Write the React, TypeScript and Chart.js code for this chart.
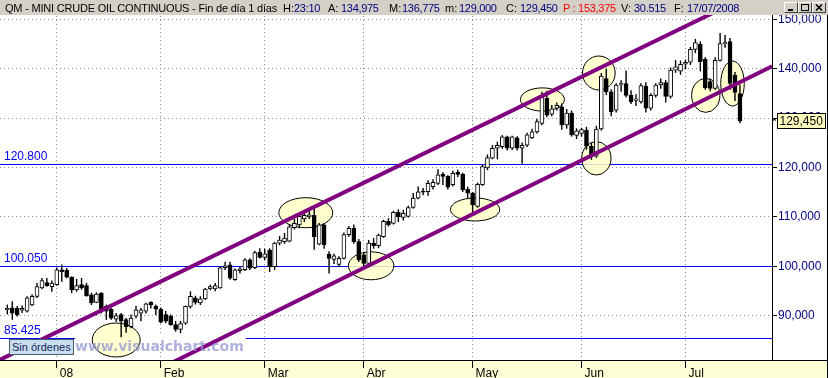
import React, { useEffect, useRef } from 'react';
import { Chart, registerables } from 'chart.js';

Chart.register(...registerables);

// ---- Daily candles (Dec 17 2007 .. Jul 17 2008), price in $ ----
const OPEN = [
  91.2, 91.6, 91.5, 91.1, 90.9, 92.2, 93.9, 95.6, 96.7, 95.9,
  96.3, 99.3, 99.2, 97.8, 95.2, 96.3, 96.1, 94.2, 92.7, 94.6,
  91.9, 91.3, 89.3, 90.2, 89.2, 87.8, 89.9, 90.5, 90.9, 92.7,
  91.9, 91.3, 90.2, 89.9, 88.2, 87.2, 88.5, 91.9, 93.6, 92.6,
  93.4, 95.4, 95.4, 95.6, 99.7, 100.3, 97.3, 99.1, 99.3, 101.3,
  99.7, 102.9, 101.8, 103.3, 99.9, 104.7, 105.0, 105.1, 107.8, 108.4,
  109.6, 110.0, 110.3, 104.5, 108.4, 102.4, 101.4, 100.4, 101.6, 106.4,
  107.7, 105.0, 102.3, 100.6, 104.7, 104.2, 106.0, 109.1, 108.7, 111.0,
  109.9, 110.1, 111.9, 113.8, 115.1, 115.1, 116.1, 116.8, 118.6, 118.2,
  116.5, 119.0, 118.6, 115.6, 114.8, 112.1, 116.5, 119.9, 121.9, 123.9,
  124.2, 126.2, 123.9, 126.0, 123.9, 124.5, 126.0, 127.2, 128.9, 134.0,
  130.8, 132.0, 132.3, 128.6, 131.0, 126.5, 126.9, 127.6, 124.3, 122.3,
  127.8, 138.0, 135.3, 131.6, 136.7, 137.0, 134.6, 133.6, 133.3, 136.5,
  132.0, 134.6, 136.7, 137.2, 134.4, 139.7, 139.5, 140.9, 141.3, 143.9,
  145.0, 141.9, 137.4, 136.0, 141.7, 145.0, 145.5, 138.7, 134.975,
];
const HIGH = [
  92.2, 92.9, 91.9, 92.0, 93.9, 94.3, 96.6, 97.6, 97.6, 97.1,
  99.7, 100.3, 99.6, 97.9, 97.4, 97.6, 96.6, 94.6, 94.7, 94.7,
  92.2, 91.5, 90.5, 90.5, 89.5, 90.2, 91.9, 91.5, 92.6, 92.9,
  92.2, 91.6, 90.9, 90.2, 88.9, 88.9, 92.0, 94.9, 94.0, 93.9,
  95.6, 96.2, 96.6, 99.9, 100.9, 100.9, 99.5, 99.9, 101.6, 101.6,
  103.1, 103.6, 103.5, 103.6, 104.9, 106.1, 106.7, 108.5, 109.6, 110.6,
  111.0, 111.4, 111.8, 108.7, 108.6, 103.0, 102.5, 102.0, 106.8, 108.1,
  108.4, 105.5, 102.9, 105.3, 105.7, 106.6, 109.4, 109.7, 111.2, 111.5,
  111.4, 112.2, 114.8, 116.1, 115.8, 117.4, 117.6, 119.6, 119.0, 118.4,
  119.3, 119.5, 118.9, 116.1, 115.0, 116.9, 120.5, 122.6, 124.5, 125.2,
  126.5, 126.4, 126.4, 126.3, 125.0, 127.0, 127.8, 129.8, 135.3, 135.5,
  132.6, 133.1, 132.9, 131.8, 131.5, 127.9, 128.0, 128.2, 125.0, 128.4,
  139.1, 140.0, 135.8, 137.0, 137.6, 139.6, 135.6, 134.8, 137.0, 137.2,
  135.0, 137.0, 138.0, 137.7, 140.2, 141.7, 141.6, 141.8, 144.4, 146.0,
  145.5, 142.3, 138.0, 142.3, 147.2, 146.8, 146.2, 139.3, 136.775,
];
const LOW = [
  90.3, 89.2, 89.9, 90.6, 90.7, 92.0, 93.6, 95.4, 95.9, 94.9,
  96.1, 96.9, 97.6, 94.6, 94.9, 95.3, 93.9, 92.2, 92.6, 90.5,
  89.2, 89.2, 88.8, 85.7, 86.6, 87.5, 89.5, 88.9, 90.5, 91.5,
  90.2, 88.5, 88.5, 88.0, 86.8, 86.5, 88.2, 91.5, 92.3, 92.2,
  93.2, 95.2, 95.0, 95.5, 99.3, 97.3, 97.1, 98.6, 99.1, 99.3,
  99.5, 101.6, 101.3, 98.9, 99.3, 104.3, 104.6, 104.9, 107.5, 107.7,
  109.0, 109.6, 103.4, 104.3, 103.6, 98.6, 100.5, 99.9, 101.4, 106.0,
  104.6, 100.9, 99.9, 100.3, 103.6, 103.7, 105.8, 108.1, 108.5, 109.0,
  109.3, 109.9, 111.7, 113.6, 114.4, 114.3, 115.6, 116.5, 116.5, 115.6,
  116.2, 118.1, 115.1, 113.9, 110.4, 111.9, 116.3, 119.5, 121.7, 121.7,
  123.8, 123.5, 123.6, 123.5, 120.8, 124.2, 125.8, 126.9, 128.6, 130.2,
  130.4, 131.6, 127.7, 127.9, 126.3, 125.8, 126.3, 123.6, 121.6, 122.0,
  127.5, 134.7, 130.4, 131.2, 135.4, 134.2, 132.9, 132.5, 133.0, 131.2,
  131.6, 134.2, 136.0, 133.2, 134.0, 139.2, 138.8, 139.9, 140.8, 143.2,
  139.5, 135.8, 135.5, 135.8, 141.5, 144.3, 135.8, 133.5, 129.0,
];
const CLOSE = [
  91.5, 90.5, 90.2, 91.5, 93.6, 93.9, 95.9, 97.1, 96.1, 96.6,
  99.3, 98.9, 97.8, 95.2, 96.1, 95.6, 94.0, 92.6, 94.4, 90.9,
  90.9, 89.5, 90.0, 88.9, 87.8, 89.5, 91.2, 91.2, 92.4, 92.2,
  91.3, 88.7, 88.9, 88.2, 87.2, 88.4, 91.9, 93.9, 92.7, 93.4,
  95.4, 95.9, 96.1, 99.7, 100.1, 97.6, 99.3, 99.5, 101.3, 99.6,
  102.8, 101.8, 102.5, 99.9, 104.7, 105.3, 105.7, 108.0, 108.7, 110.1,
  110.3, 110.4, 106.0, 108.4, 104.4, 101.6, 102.1, 101.6, 106.4, 107.7,
  105.0, 101.3, 100.6, 104.7, 104.2, 106.3, 109.1, 108.4, 110.9, 110.0,
  110.7, 111.9, 113.8, 115.1, 115.0, 116.8, 117.0, 118.5, 118.2, 116.0,
  118.8, 118.6, 115.5, 114.8, 112.4, 116.6, 120.2, 122.0, 123.9, 124.5,
  126.2, 123.9, 126.2, 123.9, 124.5, 126.6, 127.2, 129.3, 134.3, 130.6,
  131.9, 132.6, 128.6, 131.0, 126.6, 127.4, 127.7, 124.3, 122.3, 127.8,
  138.5, 135.3, 131.3, 136.7, 137.0, 134.6, 133.3, 133.9, 136.6, 132.0,
  134.6, 136.7, 137.2, 134.4, 139.7, 140.4, 140.9, 141.3, 143.9, 145.3,
  141.4, 136.1, 136.0, 141.7, 145.1, 145.3, 137.0, 135.2, 129.45,
];

// ---- Axis ticks ----
const MONTH_START = [10, 31, 52, 72, 94, 116, 137];
const MONTH_LABELS = ['08', 'Feb', 'Mar', 'Abr', 'May', 'Jun', 'Jul'];
const Y_TICKS = [90, 100, 110, 120, 130, 140, 150];
const X_MIN = -1.475;
const X_MAX = 154.48;
const Y_MIN = 81.03;
const Y_MAX = 153.91;

// ---- Horizontal levels ----
const LEVELS = [120.8, 100.05, 85.425];
const LEVEL_LABELS = ['120.800', '100.050', '85.425'];

// ---- Channel lines (bar index, price) ----
const UPPER_X = [-1.5, 152];
const UPPER_Y = [81.07, 155.9];
const LOWER_X = [30, 154.5];
const LOWER_Y = [78.87, 140.49];

// ---- Highlight ellipses: centre (bar index, price), radii (bars, price) ----
const ELLIPSE_X = [22.0, 60.3, 73.5, 94.5, 108.1, 119.5, 119.0, 141.1, 146.5];
const ELLIPSE_Y = [85.08, 110.85, 100.1, 111.5, 133.77, 139.13, 121.86, 134.6, 137.0];
const ELLIPSE_RX = [4.85, 5.45, 4.6, 4.98, 4.44, 3.3, 2.96, 2.86, 2.38];
const ELLIPSE_RY = [3.44, 3.04, 2.83, 2.33, 2.35, 3.44, 3.38, 3.44, 4.55];

const WATERMARK = 'www.visualchart.com';
const BAR_INDEX = OPEN.map((_, i) => i);

const FONT = '"Liberation Sans", Arial, sans-serif';
const WM_FONT = 'bold 14px "DejaVu Sans", Verdana, sans-serif';
const fmtAxis = (v: number) => v.toFixed(3).replace('.', ',');

const TITLE_SEGMENTS = [
  { x: 5, text: 'QM - MINI CRUDE OIL CONTINUOUS - Fin de día 1 días', color: '#000', ls: -0.2 },
  { x: 283, text: 'H:', color: '#000', ls: 0 },
  { x: 294, text: '23:10', color: '#000080', ls: -0.3 },
  { x: 328, text: 'A:', color: '#000', ls: 0 },
  { x: 341, text: '134,975', color: '#000080', ls: -0.3 },
  { x: 389, text: 'M:', color: '#000', ls: 0 },
  { x: 402, text: '136,775', color: '#000080', ls: -0.3 },
  { x: 445, text: 'm:', color: '#000', ls: 0 },
  { x: 459, text: '129,000', color: '#000080', ls: -0.3 },
  { x: 506, text: 'C:', color: '#000', ls: 0 },
  { x: 520, text: '129,450', color: '#000080', ls: -0.3 },
  { x: 563, text: 'P : 153,375', color: '#FF0000', ls: -0.3 },
  { x: 621, text: 'V:', color: '#000', ls: 0 },
  { x: 634, text: '30.515', color: '#000080', ls: -0.3 },
  { x: 674, text: 'F:', color: '#000', ls: 0 },
  { x: 687, text: '17/07/2008', color: '#000080', ls: -0.3 },
];

const decorPlugin = {
  id: 'decor',
  beforeDraw(chart: any) {
    const { ctx, chartArea: a, width, height } = chart;
    ctx.save();
    ctx.fillStyle = '#FFFFD7';
    ctx.fillRect(0, a.bottom, width, height - a.bottom);
    ctx.restore();
  },
  beforeDatasetsDraw(chart: any) {
    const { ctx, chartArea: a } = chart;
    const xs = chart.scales.x;
    const ys = chart.scales.y;
    ctx.save();
    ctx.beginPath();
    ctx.rect(a.left, a.top, a.right - a.left, a.bottom - a.top);
    ctx.clip();
    ctx.strokeStyle = '#0000FF';
    ctx.lineWidth = 1;
    LEVELS.forEach((v) => {
      const py = Math.round(ys.getPixelForValue(v)) + 0.5;
      ctx.beginPath();
      ctx.moveTo(a.left, py);
      ctx.lineTo(a.right, py);
      ctx.stroke();
    });
    // white backing of the watermark
    ctx.font = WM_FONT;
    const ww = ctx.measureText(WATERMARK).width;
    ctx.fillStyle = '#fff';
    ctx.fillRect(75, 335, ww + 2, 8);
    ELLIPSE_X.forEach((ex, k) => {
      const cx = xs.getPixelForValue(ex);
      const cy = ys.getPixelForValue(ELLIPSE_Y[k]);
      const rx = Math.abs(xs.getPixelForValue(ex + ELLIPSE_RX[k]) - cx);
      const ry = Math.abs(ys.getPixelForValue(ELLIPSE_Y[k] + ELLIPSE_RY[k]) - cy);
      ctx.beginPath();
      ctx.ellipse(cx, cy, rx, ry, 0, 0, Math.PI * 2);
      ctx.fillStyle = 'rgba(255,255,200,0.85)';
      ctx.fill();
      ctx.strokeStyle = '#000';
      ctx.lineWidth = 1;
      ctx.stroke();
    });
    ctx.restore();
  },
  afterDatasetsDraw(chart: any) {
    const { ctx } = chart;
    const ys = chart.scales.y;
    ctx.save();
    ctx.textAlign = 'left';
    ctx.textBaseline = 'alphabetic';
    ctx.font = '12px ' + FONT;
    ctx.fillStyle = '#0000FF';
    LEVELS.forEach((v, k) => {
      ctx.fillText(LEVEL_LABELS[k], 4, Math.round(ys.getPixelForValue(v)) - 4);
    });
    ctx.font = WM_FONT;
    ctx.fillStyle = 'rgba(150,150,208,0.75)';
    ctx.fillText(WATERMARK, 75, 351);
    ctx.restore();
  },
  afterDraw(chart: any) {
    const { ctx, chartArea: a, width, height } = chart;
    const ys = chart.scales.y;
    ctx.save();
    ctx.strokeStyle = '#000';
    ctx.lineWidth = 1;
    ctx.beginPath();
    ctx.moveTo(0, a.bottom + 0.5);
    ctx.lineTo(width, a.bottom + 0.5);
    ctx.moveTo(width - 0.5, 0);
    ctx.lineTo(width - 0.5, height);
    ctx.stroke();
    // last price tag
    const lastClose = CLOSE[CLOSE.length - 1];
    const py = Math.round(ys.getPixelForValue(lastClose));
    const bx = a.right + 5.5;
    ctx.fillStyle = '#FFFFC0';
    ctx.fillRect(bx, py - 7.5, 48, 15);
    ctx.strokeRect(bx, py - 7.5, 48, 15);
    ctx.fillStyle = '#000';
    ctx.font = '12px ' + FONT;
    ctx.textBaseline = 'middle';
    ctx.textAlign = 'left';
    ctx.fillText(fmtAxis(lastClose), bx + 2, py + 0.5);
    // small marker
    ctx.beginPath();
    ctx.moveTo(a.right + 1, py - 2.5);
    ctx.lineTo(a.right + 4, py - 0.5);
    ctx.moveTo(a.right + 1, py - 0.5);
    ctx.lineTo(a.right + 4, py - 2.5);
    ctx.stroke();
    ctx.restore();
  },
};

export default function App() {
  const ref = useRef<HTMLCanvasElement>(null);

  useEffect(() => {
    const canvas = ref.current;
    if (!canvas) return;
    const chart = new Chart(canvas, {
      type: 'bar',
      data: {
        datasets: [
          {
            type: 'line',
            label: 'Upper channel',
            data: UPPER_X.map((x, i) => ({ x, y: UPPER_Y[i] })),
            borderColor: '#800080',
            borderWidth: 4,
            pointRadius: 0,
            order: 1,
          } as any,
          {
            type: 'line',
            label: 'Lower channel',
            data: LOWER_X.map((x, i) => ({ x, y: LOWER_Y[i] })),
            borderColor: '#800080',
            borderWidth: 4,
            pointRadius: 0,
            order: 1,
          } as any,
          {
            type: 'bar',
            label: 'Range',
            data: BAR_INDEX.map((i) => ({ x: i, y: [LOW[i], HIGH[i]] })),
            backgroundColor: '#000',
            borderWidth: 0,
            barThickness: 1,
            grouped: false,
            inflateAmount: 0.2,
            order: 4,
          } as any,
          {
            type: 'bar',
            label: 'Body',
            data: BAR_INDEX.map((i) => ({ x: i, y: [OPEN[i], CLOSE[i]] })),
            backgroundColor: (c: any) => (CLOSE[c.dataIndex] >= OPEN[c.dataIndex] ? '#fff' : '#000'),
            borderColor: '#000',
            borderWidth: 1,
            borderSkipped: false,
            barThickness: 4,
            grouped: false,
            minBarLength: 1,
            order: 3,
          } as any,
        ],
      },
      options: {
        responsive: false,
        maintainAspectRatio: false,
        animation: false,
        events: [],
        layout: { padding: 0 },
        plugins: {
          legend: { display: false },
          tooltip: { enabled: false },
          title: { display: false },
        },
        scales: {
          x: {
            type: 'linear',
            min: X_MIN,
            max: X_MAX,
            offset: false,
            grid: {
              offset: false,
              color: '#8a8a8a',
              lineWidth: 1,
              drawOnChartArea: true,
              drawTicks: true,
              tickLength: 8,
              tickColor: '#000',
              tickWidth: 1,
              tickBorderDash: [],
            },
            border: { display: true, color: '#000', width: 1, dash: [1, 3] },
            ticks: {
              autoSkip: false,
              maxRotation: 0,
              minRotation: 0,
              align: 'start',
              labelOffset: 3,
              padding: -2,
              color: '#000',
              font: { family: FONT, size: 12 },
              callback: (_v: any, i: number) => MONTH_LABELS[i],
            },
            afterBuildTicks: (s: any) => {
              s.ticks = MONTH_START.map((v) => ({ value: v }));
            },
            afterFit: (s: any) => {
              s.height = 18;
              s.paddingLeft = 0;
              s.paddingRight = 0;
            },
          },
          y: {
            type: 'linear',
            position: 'right',
            min: Y_MIN,
            max: Y_MAX,
            beginAtZero: false,
            grid: {
              color: '#8a8a8a',
              lineWidth: 1,
              drawOnChartArea: true,
              tickLength: 5,
              tickColor: '#000',
              tickWidth: 1,
              tickBorderDash: [],
            },
            border: { display: true, color: '#000', width: 1, dash: [1, 3] },
            ticks: {
              padding: 1,
              color: '#000080',
              font: { family: FONT, size: 12 },
              callback: (v: any) => fmtAxis(Number(v)),
            },
            afterBuildTicks: (s: any) => {
              s.ticks = Y_TICKS.map((v) => ({ value: v }));
            },
            afterFit: (s: any) => {
              s.width = 56;
              s.paddingTop = 0;
              s.paddingBottom = 0;
            },
          },
        },
      } as any,
      plugins: [decorPlugin],
    });
    return () => chart.destroy();
  }, []);

  const btn = (left: number, icon: React.ReactNode) => (
    <div
      style={{
        position: 'absolute',
        left,
        top: 2,
        width: 12,
        height: 9,
        background: '#D4D0C8',
        borderTop: '1px solid #fff',
        borderLeft: '1px solid #fff',
        borderRight: '1px solid #404040',
        borderBottom: '1px solid #404040',
      }}
    >
      <svg width={12} height={9} style={{ display: 'block' }}>
        {icon}
      </svg>
    </div>
  );

  return (
    <div
      style={{
        position: 'fixed',
        left: 0,
        top: 0,
        width: 828,
        height: 378,
        background: '#fff',
        overflow: 'hidden',
        fontFamily: FONT,
      }}
    >
      <canvas
        ref={ref}
        width={828}
        height={378}
        style={{ position: 'absolute', left: 0, top: 0, width: 828, height: 378, display: 'block' }}
      />
      <div
        style={{
          position: 'absolute',
          left: 0,
          top: 0,
          width: 828,
          height: 15,
          background: '#D4D0C8',
        }}
      >
        {TITLE_SEGMENTS.map((s, i) => (
          <span
            key={i}
            style={{
              position: 'absolute',
              left: s.x,
              top: 1,
              fontSize: 11,
              lineHeight: '15px',
              color: s.color,
              whiteSpace: 'pre',
              letterSpacing: s.ls,
            }}
          >
            {s.text}
          </span>
        ))}
        {btn(784, <line x1={3} y1={7} x2={8} y2={7} stroke="#000" strokeWidth={2} />)}
        {btn(798, <rect x={2.5} y={1.5} width={7} height={6} fill="none" stroke="#000" strokeWidth={1} />)}
        {btn(812, (
          <g stroke="#000" strokeWidth={1.6}>
            <line x1={3} y1={1.5} x2={9} y2={7.5} />
            <line x1={9} y1={1.5} x2={3} y2={7.5} />
          </g>
        ))}
      </div>
      <div
        style={{
          position: 'absolute',
          left: 9,
          top: 339,
          width: 61,
          height: 14,
          background: '#C8DDEE',
          border: '1px solid #4a5a6a',
          fontSize: 11,
          lineHeight: '14px',
          color: '#14285a',
          paddingLeft: 2,
          whiteSpace: 'pre',
        }}
      >
        Sin órdenes
      </div>
    </div>
  );
}
